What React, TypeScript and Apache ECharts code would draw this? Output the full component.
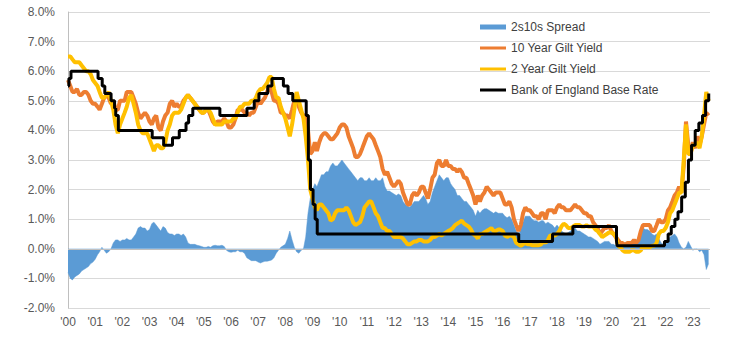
import { useEffect, useRef } from 'react';
import * as echarts from 'echarts';

// Monthly observations, first of each month from Jan 2000 to Aug 2023
const START_YEAR = 2000;

const spread = [
  -0.8, -1.0, -1.05, -0.95, -0.9, -0.85, -0.75, -0.7, -0.65, -0.6, -0.5, -0.45,
  -0.35, -0.2, -0.1, 0.05, -0.05, -0.15, -0.1, 0.0, 0.2, 0.3, 0.3, 0.25,
  0.3, 0.3, 0.35, 0.3, 0.3, 0.4, 0.5, 0.7, 0.75, 0.7, 0.7, 0.6,
  0.65, 0.85, 0.9, 0.8, 0.7, 0.6, 0.75, 0.7, 0.55, 0.5, 0.5, 0.45,
  0.5, 0.5, 0.45, 0.5, 0.4, 0.2, 0.15, 0.15, 0.15, 0.12, 0.1, 0.08,
  0.05, 0.05, 0.08, 0.05, 0.1, 0.12, 0.1, 0.1, 0.12, 0.08, -0.05, -0.1,
  -0.12, -0.1, -0.1, -0.05, -0.1, -0.1, -0.15, -0.3, -0.35, -0.4, -0.4, -0.4,
  -0.45, -0.48, -0.45, -0.42, -0.42, -0.4, -0.38, -0.3, -0.15, -0.05, 0.05, 0.1,
  0.15, 0.35, 0.6, 0.3, 0.05, -0.1, -0.15, -0.05, 0.0, 0.4, 1.2, 1.7,
  2.0, 2.2, 2.1, 2.3, 2.5, 2.5, 2.6, 2.6, 2.8, 2.9, 2.8, 2.8,
  2.9, 3.0, 2.9, 2.8, 2.7, 2.6, 2.5, 2.4, 2.3, 2.4, 2.4, 2.3,
  2.3, 2.4, 2.3, 2.3, 2.4, 2.3, 2.3, 2.4, 2.1, 1.95, 1.95, 1.9,
  1.85, 1.8, 1.85, 1.8, 1.6, 1.5, 1.45, 1.4, 1.5, 1.6, 1.6, 1.6,
  1.7, 1.8, 1.7, 1.5, 1.6, 1.9, 2.1, 2.3, 2.5, 2.4, 2.3, 2.4,
  2.4, 2.2, 2.1, 2.0, 1.8, 1.8, 1.7, 1.6, 1.6, 1.5, 1.4, 1.3,
  1.1, 1.3, 1.2, 1.3, 1.35, 1.35, 1.3, 1.25, 1.2, 1.25, 1.2, 1.2,
  1.2, 1.1, 1.05, 1.1, 1.0, 0.8, 0.6, 0.5, 0.65, 0.9, 1.1, 1.1,
  1.1, 1.0, 0.95, 0.95, 0.9, 0.95, 0.95, 0.85, 0.9, 0.85, 0.8, 0.7,
  0.8, 0.7, 0.6, 0.55, 0.5, 0.55, 0.6, 0.65, 0.7, 0.6, 0.6, 0.55,
  0.5, 0.45, 0.4, 0.4, 0.35, 0.3, 0.25, 0.15, 0.2, 0.25, 0.25, 0.25,
  0.15, 0.15, 0.1, 0.2, 0.15, 0.15, 0.15, 0.15, 0.2, 0.25, 0.25, 0.3,
  0.35, 0.6, 0.7, 0.65, 0.65, 0.6, 0.5, 0.45, 0.5, 0.35, 0.2, 0.15,
  0.2, 0.3, 0.4, 0.45, 0.5, 0.4, 0.2, 0.05, 0.0, 0.05, 0.25, 0.1,
  -0.05, 0.0, 0.0, -0.1, -0.05, -0.2, -0.7, -0.5,
];

const gilt10y = [
  5.7, 5.5, 5.3, 5.3, 5.4, 5.2, 5.2, 5.3, 5.3, 5.2, 5.0, 4.9,
  4.9, 4.8, 4.7, 4.9, 5.1, 5.2, 5.1, 4.9, 5.0, 4.7, 4.7, 5.0,
  5.0, 5.0, 5.3, 5.3, 5.3, 5.1, 4.9, 4.6, 4.4, 4.5, 4.6, 4.5,
  4.3, 4.2, 4.4, 4.5, 4.1, 4.0, 4.3, 4.5, 4.6, 4.9, 5.0, 4.8,
  4.9, 4.8, 4.8, 5.0, 5.1, 5.2, 5.1, 5.0, 4.9, 4.8, 4.7, 4.6,
  4.6, 4.7, 4.7, 4.5, 4.3, 4.2, 4.3, 4.3, 4.3, 4.4, 4.3, 4.1,
  4.1, 4.2, 4.4, 4.7, 4.7, 4.7, 4.6, 4.6, 4.5, 4.6, 4.6, 4.8,
  5.0, 4.9, 5.0, 5.1, 5.3, 5.5, 5.3, 5.0, 5.0, 4.9, 4.6, 4.6,
  4.5, 4.5, 4.4, 4.7, 5.0, 5.1, 4.8, 4.6, 4.5, 4.5, 4.0, 3.2,
  3.3, 3.6, 3.3, 3.6, 3.8, 3.9, 3.9, 3.8, 3.7, 3.7, 3.8, 3.9,
  4.1, 4.2, 4.2, 4.1, 3.8, 3.6, 3.4, 3.1, 3.1, 3.2, 3.4, 3.6,
  3.8, 3.9, 3.8, 3.7, 3.5, 3.3, 3.1, 2.7, 2.5, 2.6, 2.4, 2.2,
  2.1, 2.2, 2.3, 2.2, 1.9, 1.7, 1.5, 1.5, 1.8, 1.9, 1.8, 1.9,
  2.1, 2.1, 1.9, 1.7, 2.0, 2.4, 2.5, 2.9, 3.0, 2.8, 2.8, 3.0,
  2.8, 2.8, 2.7, 2.7, 2.6, 2.7, 2.6, 2.4, 2.4, 2.2, 2.0, 1.8,
  1.5, 1.8, 1.6, 1.8, 1.9, 2.1, 2.0, 1.9, 1.8, 1.9, 1.9, 1.9,
  1.7, 1.5, 1.5, 1.6, 1.4, 1.0, 0.8, 0.6, 0.8, 1.2, 1.4, 1.3,
  1.3, 1.2, 1.1, 1.1, 1.0, 1.2, 1.2, 1.0, 1.3, 1.3, 1.3, 1.2,
  1.4, 1.5, 1.4, 1.4, 1.3, 1.3, 1.3, 1.4, 1.5, 1.4, 1.4, 1.3,
  1.2, 1.2, 1.1, 1.1, 0.9, 0.8, 0.7, 0.5, 0.6, 0.7, 0.7, 0.8,
  0.6, 0.5, 0.4, 0.3, 0.2, 0.2, 0.1, 0.2, 0.2, 0.2, 0.3, 0.2,
  0.3, 0.6, 0.8, 0.8, 0.8, 0.8, 0.6, 0.6, 0.8, 1.0, 0.9, 0.9,
  1.0, 1.3, 1.4, 1.6, 1.8, 1.9, 2.1, 1.9, 2.8, 4.3, 3.5, 3.2,
  3.6, 3.4, 3.8, 3.5, 3.8, 4.2, 4.6, 4.5,
];

const gilt2y = [
  6.5, 6.5, 6.4, 6.3, 6.3, 6.3, 6.2, 6.1, 6.0, 6.0, 5.9, 5.7,
  5.6, 5.5, 5.3, 5.1, 5.1, 5.2, 5.3, 5.0, 4.7, 4.2, 3.9, 4.2,
  4.4, 4.6, 4.8, 5.1, 5.2, 4.9, 4.6, 4.2, 4.0, 3.9, 3.9, 3.9,
  3.7, 3.5, 3.3, 3.5, 3.5, 3.4, 3.4, 3.6, 4.0, 4.2, 4.5, 4.6,
  4.6, 4.6, 4.7, 4.9, 5.1, 5.2, 5.1, 5.0, 4.9, 4.8, 4.7, 4.6,
  4.6, 4.7, 4.7, 4.6, 4.4, 4.2, 4.2, 4.2, 4.2, 4.3, 4.3, 4.3,
  4.3, 4.4, 4.4, 4.6, 4.8, 4.8, 4.9, 4.9, 4.9, 5.0, 5.0, 5.1,
  5.3, 5.4, 5.4, 5.5, 5.6, 5.8, 5.8, 5.4, 5.1, 5.1, 4.8, 4.6,
  4.4, 4.1, 3.8, 4.2, 4.7, 5.3, 5.0, 4.7, 4.4, 3.8, 3.0, 2.0,
  1.7, 1.4, 1.3, 1.5, 1.5, 1.4, 1.3, 1.2, 0.95, 1.0, 1.2, 1.3,
  1.3, 1.3, 1.3, 1.4, 1.3, 1.1, 0.9, 0.8, 0.85, 0.9, 1.1, 1.4,
  1.5, 1.6, 1.6, 1.4, 1.2, 1.1, 0.9, 0.7, 0.7, 0.6, 0.6, 0.5,
  0.4, 0.4, 0.4, 0.4, 0.35, 0.25, 0.15, 0.15, 0.2, 0.25, 0.25, 0.3,
  0.3, 0.25, 0.25, 0.25, 0.3, 0.4, 0.4, 0.45, 0.5, 0.45, 0.5, 0.55,
  0.6, 0.65, 0.7, 0.8, 0.85, 0.9, 0.95, 0.85, 0.8, 0.75, 0.65, 0.5,
  0.45, 0.35, 0.5, 0.5, 0.55, 0.6, 0.65, 0.7, 0.6, 0.6, 0.65, 0.65,
  0.6, 0.45, 0.4, 0.45, 0.45, 0.4, 0.2, 0.15, 0.1, 0.15, 0.2, 0.15,
  0.15, 0.12, 0.12, 0.12, 0.12, 0.15, 0.25, 0.2, 0.3, 0.45, 0.45, 0.45,
  0.5, 0.6, 0.75, 0.85, 0.8, 0.7, 0.7, 0.75, 0.8, 0.8, 0.8, 0.75,
  0.75, 0.8, 0.75, 0.75, 0.75, 0.65, 0.6, 0.5, 0.4, 0.45, 0.5, 0.55,
  0.55, 0.5, 0.45, 0.1, 0.05, -0.05, -0.1, -0.1, -0.1, -0.05, -0.05, -0.1,
  -0.1, -0.05, 0.1, 0.05, 0.05, 0.05, 0.1, 0.1, 0.2, 0.5, 0.6, 0.6,
  0.7, 0.9, 1.2, 1.3, 1.5, 1.7, 1.9, 1.9, 3.0, 4.2, 3.2, 3.2,
  3.5, 3.5, 3.6, 3.4, 3.8, 4.5, 5.3, 5.0,
];

// Bank of England base rate changes
const rateDates = [
  '2000-01-01', '2000-01-13', '2000-02-10', '2001-02-08', '2001-04-05', '2001-05-10',
  '2001-08-02', '2001-09-18', '2001-10-04', '2001-11-08', '2003-02-06', '2003-07-10',
  '2003-11-06', '2004-02-05', '2004-05-06', '2004-06-10', '2004-08-05', '2005-08-04',
  '2006-08-03', '2006-11-09', '2007-01-11', '2007-05-10', '2007-07-05', '2007-12-06',
  '2008-02-07', '2008-04-10', '2008-10-08', '2008-11-06', '2008-12-04', '2009-01-08',
  '2009-02-05', '2009-03-05', '2016-08-04', '2017-11-02', '2018-08-02', '2020-03-11',
  '2020-03-19', '2021-12-16', '2022-02-03', '2022-03-17', '2022-05-05', '2022-06-16',
  '2022-08-04', '2022-09-22', '2022-11-03', '2022-12-15', '2023-02-02', '2023-03-23',
  '2023-05-11', '2023-06-22', '2023-08-03', '2023-08-10',
];
const rateValues = [
  5.5, 5.75, 6.0, 5.75, 5.5, 5.25,
  5.0, 4.75, 4.5, 4.0, 3.75, 3.5,
  3.75, 4.0, 4.25, 4.5, 4.75, 4.5,
  4.75, 5.0, 5.25, 5.5, 5.75, 5.5,
  5.25, 5.0, 4.5, 3.0, 2.0, 1.5,
  1.0, 0.5, 0.25, 0.5, 0.75, 0.25,
  0.1, 0.25, 0.5, 0.75, 1.0, 1.25,
  1.75, 2.25, 3.0, 3.5, 4.0, 4.25,
  4.5, 5.0, 5.25, 5.25,
];

const seriesNames = ['2s10s Spread', '10 Year Gilt Yield', '2 Year Gilt Yield', 'Bank of England Base Rate'];
const seriesColors = ['#5B9BD5', '#ED7D31', '#FFC000', '#000000'];

const AXIS_MIN = '2000-01-01';
const AXIS_MAX = '2023-08-20';

function parseLocal(s: string): number {
  const [y, m, d] = s.split('-').map(Number);
  return new Date(y, m - 1, d).getTime();
}

function monthly(values: number[]): [number, number][] {
  return values.map((v, i) => [new Date(START_YEAR, i, 1).getTime(), v]);
}

const FONT = "'Liberation Sans', Arial, sans-serif";
const LINE_ICON = 'path://M0,0L26,0Z M0,1H26V4H0Z M0,5L26,5Z';

export default function App() {
  const ref = useRef<HTMLDivElement>(null);

  useEffect(() => {
    if (!ref.current) return;
    const chart = echarts.init(ref.current, undefined, { renderer: 'svg' });
    const DAY = 24 * 3600 * 1000;
    chart.setOption({
      animation: false,
      textStyle: { fontFamily: FONT },
      grid: { left: 68, right: 28, top: 12, bottom: 33 },
      legend: {
        orient: 'vertical',
        left: 475,
        top: 15,
        itemWidth: 26,
        itemHeight: 5,
        itemGap: 7,
        itemStyle: { borderWidth: 0 },
        textStyle: { color: '#404040', fontSize: 12, fontFamily: FONT, lineHeight: 14 },
        data: [
          { name: seriesNames[0], icon: 'rect' },
          { name: seriesNames[1], icon: LINE_ICON },
          { name: seriesNames[2], icon: LINE_ICON },
          { name: seriesNames[3], icon: LINE_ICON },
        ],
      },
      xAxis: {
        type: 'time',
        min: parseLocal(AXIS_MIN),
        max: parseLocal(AXIS_MAX),
        splitNumber: 24,
        minInterval: 365 * DAY,
        maxInterval: 366 * DAY,
        axisLine: { show: false },
        axisTick: { show: false },
        splitLine: { show: false },
        axisLabel: {
          color: '#595959',
          fontSize: 12,
          fontFamily: FONT,
          margin: 8,
          hideOverlap: false,
          showMaxLabel: false,
          formatter: (val: number) => {
            const d = new Date(val);
            return d.getMonth() === 0 && d.getDate() === 1 ? "'" + String(d.getFullYear()).slice(2) : '';
          },
        },
      },
      yAxis: {
        type: 'value',
        min: -2,
        max: 8,
        interval: 1,
        axisLine: { show: true, lineStyle: { color: '#bfbfbf', width: 1 } },
        axisTick: { show: false },
        splitLine: { lineStyle: { color: '#d9d9d9', width: 1 } },
        axisLabel: {
          color: '#595959',
          fontSize: 12,
          fontFamily: FONT,
          margin: 13,
          formatter: (v: number) => v.toFixed(1) + '%',
        },
      },
      series: [
        {
          name: seriesNames[0],
          type: 'line',
          data: monthly(spread),
          showSymbol: false,
          symbol: 'none',
          color: seriesColors[0],
          lineStyle: { width: 0.5, color: seriesColors[0] },
          areaStyle: { color: seriesColors[0], opacity: 1 },
          markLine: {
            silent: true,
            symbol: 'none',
            label: { show: false },
            lineStyle: { color: '#bfbfbf', width: 1, type: 'solid' },
            data: [{ yAxis: 0 }],
          },
        },
        {
          name: seriesNames[1],
          type: 'line',
          data: monthly(gilt10y),
          showSymbol: false,
          symbol: 'none',
          color: seriesColors[1],
          lineStyle: { width: 4, color: seriesColors[1] },
        },
        {
          name: seriesNames[2],
          type: 'line',
          data: monthly(gilt2y),
          showSymbol: false,
          symbol: 'none',
          color: seriesColors[2],
          lineStyle: { width: 4, color: seriesColors[2] },
        },
        {
          name: seriesNames[3],
          type: 'line',
          step: 'end',
          data: rateDates.map((d, i) => [parseLocal(d), rateValues[i]]),
          showSymbol: false,
          symbol: 'none',
          color: seriesColors[3],
          lineStyle: { width: 3, color: seriesColors[3] },
        },
      ],
    });
    return () => chart.dispose();
  }, []);

  return (
    <div
      ref={ref}
      style={{ position: 'fixed', left: 0, top: 0, width: 738, height: 341, background: '#fff' }}
    />
  );
}
